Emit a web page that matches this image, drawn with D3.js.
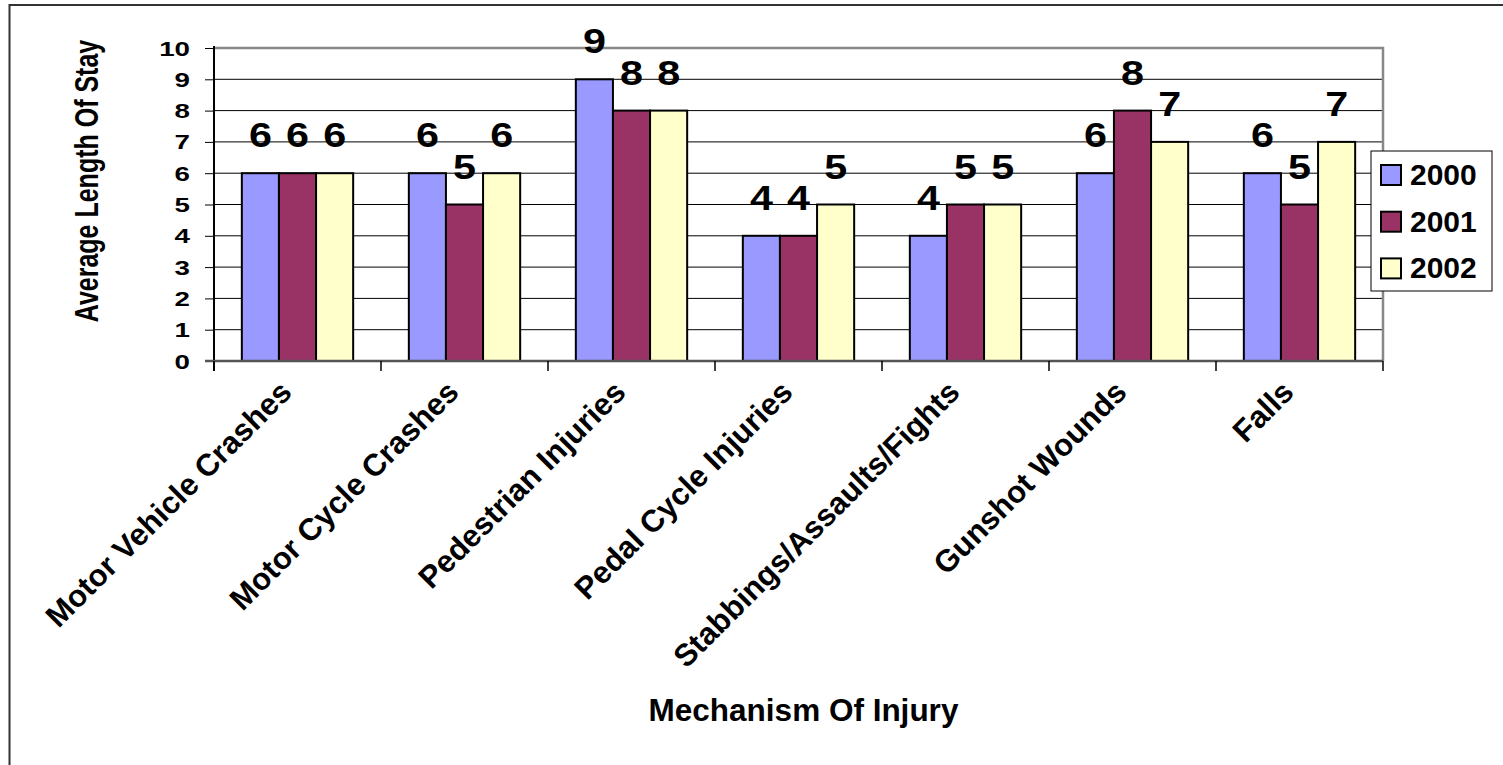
<!DOCTYPE html>
<html><head><meta charset="utf-8">
<script src="https://cdn.jsdelivr.net/npm/d3@7"></script>
<style>body{margin:0;background:#fff}svg{display:block}text{font-family:Arial,"Liberation Sans",sans-serif;font-weight:bold}</style>
</head><body>
<script>
const categories = ["Motor Vehicle Crashes","Motor Cycle Crashes","Pedestrian Injuries","Pedal Cycle Injuries","Stabbings/Assaults/Fights","Gunshot Wounds","Falls"];
const seriesNames = ["2000","2001","2002"];
const values2000 = [6,6,9,4,4,6,6];
const values2001 = [6,5,8,4,5,8,5];
const values2002 = [6,6,8,5,5,7,7];
const yTicks = [0,1,2,3,4,5,6,7,8,9,10];
const colors = ["#9999FF","#993366","#FFFFCC"];
const seriesValues = [values2000, values2001, values2002];

const W = 1503, H = 765;
const svg = d3.select("body").append("svg").attr("width", W).attr("height", H);
const L = 214, R = 1383, T = 48, B = 361;

// outer chart frame (cropped)
svg.append("rect").attr("x", 9.5).attr("y", 5).attr("width", 1600).attr("height", 900)
  .attr("fill", "none").attr("stroke", "#333").attr("stroke-width", 2);

const x = d3.scaleBand().domain(categories).range([L, R]).paddingInner(0).paddingOuter(0);
const y = d3.scaleLinear().domain([0, 10]).range([B, T]);
const bw = x.bandwidth() / (3 + 1.5);
const gx = (x.bandwidth() - 3 * bw) / 2;

// gridlines
svg.append("g").selectAll("line").data(yTicks.filter(d => d > 0 && d < 10)).join("line")
  .attr("x1", L).attr("x2", R).attr("y1", d => y(d)).attr("y2", d => y(d))
  .attr("stroke", "#000").attr("stroke-width", 1);
// top and right plot border
svg.append("path").attr("d", `M${L},${y(10)}H${R}V${B}`).attr("fill", "none")
  .attr("stroke", "#888").attr("stroke-width", 2.5);

// y axis
const yAxis = svg.append("g").attr("transform", `translate(${L},0)`)
  .call(d3.axisLeft(y).tickValues(yTicks).tickSize(9).tickFormat(""));
yAxis.select(".domain").attr("stroke", "#000").attr("stroke-width", 2).attr("d", `M0,${y(10)-2}V${B+10}`);
yAxis.selectAll(".tick line").attr("stroke", "#000").attr("stroke-width", 1);
svg.append("g").selectAll("text").data(yTicks).join("text")
  .attr("transform", d => `translate(190,${y(d) + 7.5}) scale(1.32,1)`)
  .attr("text-anchor", "end").attr("font-size", 21).attr("fill", "#000")
  .text(d => d);

// bars
const groups = svg.append("g").selectAll("g").data(categories).join("g")
  .attr("transform", d => `translate(${x(d)},0)`);
seriesNames.forEach((s, si) => {
  groups.append("rect")
    .attr("x", gx + si * bw)
    .attr("y", (d, i) => y(seriesValues[si][i]))
    .attr("width", bw)
    .attr("height", (d, i) => y(0) - y(seriesValues[si][i]))
    .attr("fill", colors[si]).attr("stroke", "#000").attr("stroke-width", 2);
  groups.append("text")
    .attr("transform", (d, i) => `translate(${gx + si * bw + bw / 2},${y(seriesValues[si][i]) - 26}) scale(1.18,1)`)
    .attr("text-anchor", "middle").attr("font-size", 35).attr("fill", "#000")
    .text((d, i) => seriesValues[si][i]);
});

// x axis
const xAxis = svg.append("g").attr("transform", `translate(0,${B})`)
  .call(d3.axisBottom(x).tickSize(0).tickFormat(""));
xAxis.select(".domain").attr("stroke", "#555").attr("stroke-width", 2.5).attr("d", `M${L-9},0H${R}`);
svg.append("g").selectAll("line").data(d3.range(categories.length + 1)).join("line")
  .attr("x1", i => L + i * x.step()).attr("x2", i => L + i * x.step())
  .attr("y1", B).attr("y2", B + 10).attr("stroke", "#000").attr("stroke-width", 1.5);

svg.append("g").selectAll("text").data(categories).join("text")
  .attr("transform", d => `translate(${x(d) + x.bandwidth() / 2 - 4},${B + 33}) rotate(-45)`)
  .attr("text-anchor", "end").attr("font-size", 31).attr("fill", "#000")
  .text(d => d);

// axis titles
svg.append("text").attr("transform", `translate(98,181) rotate(-90) scale(1,1.3)`)
  .attr("text-anchor", "middle").attr("font-size", 25).attr("fill", "#000")
  .text("Average Length Of Stay");
svg.append("text").attr("x", (L + R) / 2 + 5).attr("y", 721)
  .attr("text-anchor", "middle").attr("font-size", 31.5).attr("fill", "#000")
  .text("Mechanism Of Injury");

// legend
const lg = svg.append("g").attr("transform", "translate(1371,151)");
lg.append("rect").attr("width", 121).attr("height", 140).attr("fill", "#fff")
  .attr("stroke", "#000").attr("stroke-width", 1);
const li = lg.selectAll("g").data(seriesNames).join("g")
  .attr("transform", (d, i) => `translate(10,${14 + i * 46.7})`);
li.append("rect").attr("width", 20).attr("height", 20)
  .attr("fill", (d, i) => colors[i]).attr("stroke", "#000").attr("stroke-width", 2);
li.append("text").attr("x", 29).attr("y", 20).attr("font-size", 30).attr("fill", "#000").text(d => d);
</script>
</body></html>
